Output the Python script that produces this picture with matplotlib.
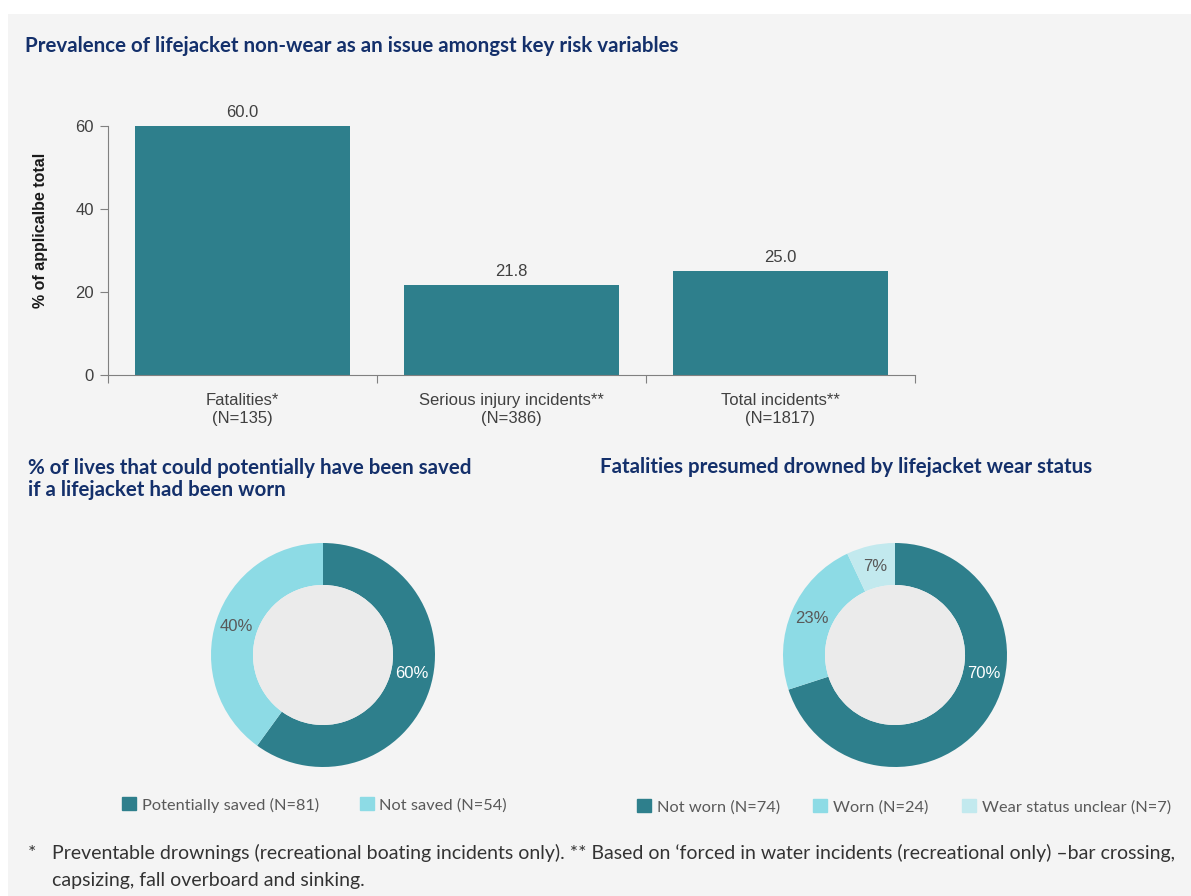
import math as m
import numpy as np
import matplotlib.pyplot as plt
from matplotlib.patches import Rectangle, Circle, Patch

# --- data ---
bar_categories = ['Fatalities*\n(N=135)', 'Serious injury incidents**\n(N=386)', 'Total incidents**\n(N=1817)']
bar_values = [60.0, 21.8, 25.0]
y_ticks = [0, 20, 40, 60]

saved_labels = ['Potentially saved (N=81)', 'Not saved (N=54)']
saved_values = [60, 40]

wear_labels = ['Not worn (N=74)', 'Worn (N=24)', 'Wear status unclear (N=7)']
wear_values = [70, 23, 7]

TEAL = '#2e7f8c'
LIGHT = '#8ddbe5'
PALE = '#c2e9ee'
BG = '#f4f4f4'
NAVY = '#14306b'
GREY = '#404040'

W, H = 1191, 896
fig = plt.figure(figsize=(W / 100, H / 100), dpi=100, facecolor='white')
plt.rcParams['font.family'] = ['Liberation Sans', 'DejaVu Sans']

def px_axes(x0, y0, x1, y1):
    # pixel box (top-left origin) -> figure axes
    return fig.add_axes([x0 / W, 1 - y1 / H, (x1 - x0) / W, (y1 - y0) / H])

fig.patches.append(Rectangle((8 / W, 0), 1, 1 - 14 / H, transform=fig.transFigure,
                             facecolor=BG, edgecolor='none', zorder=-10))

title_font = dict(family=['Lato', 'DejaVu Sans'], weight='bold', color=NAVY, fontsize=14.8)
fig.text(25 / W, 1 - 46 / H, 'Prevalence of lifejacket non-wear as an issue amongst key risk variables',
         va='center', ha='left', **title_font)
fig.text(28 / W, 1 - 479 / H, '% of lives that could potentially have been saved\nif a lifejacket had been worn',
         va='center', ha='left', linespacing=1.15, **title_font)
fig.text(600 / W, 1 - 467 / H, 'Fatalities presumed drowned by lifejacket wear status',
         va='center', ha='left', **title_font)

# --- bar chart ---
ax = px_axes(108, 126, 915, 375)
ax.set_facecolor('none')
x = np.arange(len(bar_values))
bars = ax.bar(x, bar_values, width=0.8, color=TEAL)
for b, v in zip(bars, bar_values):
    ax.text(b.get_x() + b.get_width() / 2, v + 1.4, f'{v:.1f}', ha='center', va='bottom',
            fontsize=12, color=GREY, clip_on=False)
ax.set_xlim(-0.5, len(bar_values) - 0.5)
ax.set_ylim(0, 60)
ax.set_yticks(y_ticks)
ax.set_yticklabels([str(t) for t in y_ticks], fontsize=12, color=GREY)
ax.set_xticks(np.arange(-0.5, len(bar_values)), minor=False)
ax.set_xticklabels([])
ax.set_xticks(x, minor=True)
ax.set_xticklabels(bar_categories, minor=True, fontsize=12, color=GREY, linespacing=1.25)
ax.tick_params(axis='x', which='minor', length=0, pad=13)
ax.tick_params(axis='x', which='major', length=6, color='#808080', direction='out')
ax.tick_params(axis='y', length=6, color='#808080', pad=4)
for s in ['top', 'right']:
    ax.spines[s].set_visible(False)
for s in ['left', 'bottom']:
    ax.spines[s].set_color('#808080')
ax.set_ylabel('% of applicalbe total', fontsize=11.5, weight='bold', color='#1a1a1a')
ax.yaxis.set_label_coords(-0.074, 0.58)

# --- donuts ---
def donut(cx, cy, values, colors, text_colors):
    R = 112
    a = px_axes(cx - R, cy - R, cx + R, cy + R)
    a.set_facecolor('none')
    wedges, _, autotexts = a.pie(values, colors=colors, startangle=90, counterclock=False,
                                 wedgeprops=dict(width=0.375, linewidth=0),
                                 autopct='%d%%', pctdistance=0.81, radius=1,
                                 textprops=dict(fontsize=12))
    a.add_patch(Circle((0, 0), 0.625, facecolor='#ebebeb', edgecolor='none'))
    for t, c in zip(autotexts, text_colors):
        t.set_color(c)
    # big slice label sits just below the right-hand side
    ang = m.radians(-12)
    autotexts[0].set_position((0.81 * m.cos(ang), 0.81 * m.sin(ang)))
    a.set_xlim(-1, 1)
    a.set_ylim(-1, 1)
    a.set_aspect('equal')
    return wedges

w1 = donut(323, 655, saved_values, [TEAL, LIGHT], ['white', '#595959'])
w2 = donut(895, 655, wear_values, [TEAL, LIGHT, PALE], ['white', '#595959', '#595959'])

leg_font = dict(family=['Lato', 'DejaVu Sans'], size=11.8)
fig.legend([Patch(color=c) for c in [TEAL, LIGHT]], saved_labels, loc='center left',
           bbox_to_anchor=(122 / W, 1 - 805 / H), ncol=2, frameon=False, prop=leg_font,
           handlelength=0.85, handleheight=0.85, handletextpad=0.35, columnspacing=2.5,
           labelcolor='#595959', borderaxespad=0, borderpad=0)
fig.legend([Patch(color=c) for c in [TEAL, LIGHT, PALE]], wear_labels, loc='center left',
           bbox_to_anchor=(637 / W, 1 - 807 / H), ncol=3, frameon=False, prop=leg_font,
           handlelength=0.85, handleheight=0.85, handletextpad=0.35, columnspacing=2.05,
           labelcolor='#595959', borderaxespad=0, borderpad=0)

foot_font = dict(family=['Lato', 'DejaVu Sans'], fontsize=14, color='#333333')
fig.text(28 / W, 1 - 853 / H, '*', va='center', ha='left', **foot_font)
fig.text(52 / W, 1 - 853 / H,
         'Preventable drownings (recreational boating incidents only). ** Based on \u2018forced in water '
         'incidents (recreational only) \u2013bar crossing,', va='center', ha='left', **foot_font)
fig.text(52 / W, 1 - 880 / H, 'capsizing, fall overboard and sinking.', va='center', ha='left', **foot_font)

fig.savefig('out.png', dpi=100, facecolor=fig.get_facecolor())
